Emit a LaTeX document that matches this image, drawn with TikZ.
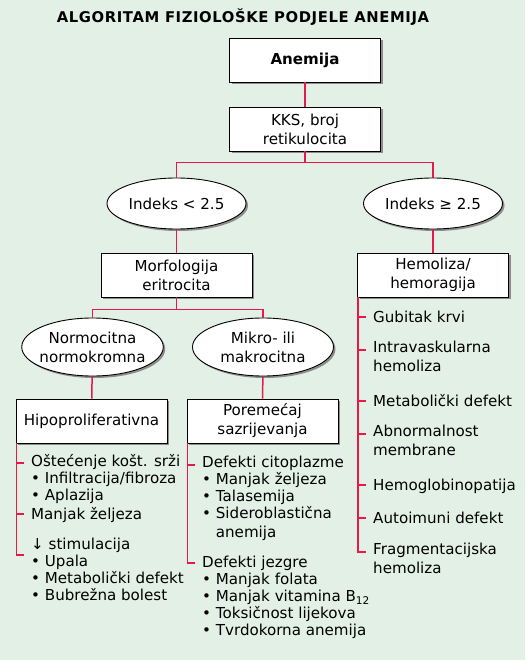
\documentclass[tikz,border=0pt]{standalone}
\usepackage{fontspec}
\setmainfont{DejaVu Sans}
\usetikzlibrary{shapes.geometric, shadows, positioning}
\definecolor{bgmint}{RGB}{226,240,230}
\definecolor{linkred}{RGB}{230,25,75}
\newcommand\boxfont{\fontsize{15.1}{19}\selectfont}
\newcommand\lstfont{\fontsize{15.1}{17}\selectfont}
\newcommand\lstrut{\rule{0pt}{14pt}}
\tikzset{
  shad/.style={drop shadow={shadow xshift=2pt, shadow yshift=-2pt, fill=black!45, opacity=1}},
  box/.style={rectangle, draw, line width=0.9pt, fill=white, shad, minimum width=151pt, minimum height=44pt, inner sep=0pt, align=center, font=\boxfont},
  oval/.style={ellipse, draw, line width=0.9pt, fill=white, shad, minimum width=139pt, minimum height=51pt, inner xsep=-3pt, inner ysep=0pt, align=center, font=\boxfont},
  lst/.style={anchor=north west, align=left, inner xsep=7pt, inner ysep=0pt, font=\lstfont, execute at begin node=\lstrut},
  link/.style={draw=linkred, line width=1.5pt},
  title/.style={font=\fontsize{14.8}{17}\selectfont\bfseries\addfontfeature{LetterSpace=4}, inner sep=0pt}
}
\begin{document}
\begin{tikzpicture}[x=1pt, y=1pt]
	% background
	\path[use as bounding box, fill=bgmint] (0,0) rectangle (525,-660);
	\node[title] (ttl) at (243,-17) {ALGORITAM FIZIOLOŠKE PODJELE ANEMIJA};
	% tree
	\node[box, font=\boxfont\bfseries] (anem) at (305,-60) {Anemija};
	\node[box] (kks) at (305,-129) {KKS, broj\\retikulocita};
	\node[oval] (low) at (176.5,-203.5) {Indeks < 2.5};
	\node[oval] (high) at (433,-203.5) {Indeks ≥ 2.5};
	\node[box] (morf) at (176.5,-275) {Morfologija\\eritrocita};
	\node[box] (hemo) at (433,-275) {Hemoliza/\\hemoragija};
	\node[oval, minimum width=141pt, minimum height=58pt] (normo) at (92.5,-347) {Normocitna\\normokromna};
	\node[oval, minimum width=141pt, minimum height=58pt] (mikro) at (263,-347) {Mikro- ili\\makrocitna};
	\node[box] (hipo) at (91.5,-421) {Hipoproliferativna};
	\node[box] (porem) at (262.5,-421) {Poremećaj\\sazrijevanja};
	\draw[link] (anem) -- (kks);
	\draw[link] (kks.south) -- ++(0,-11) -| (low.north);
	\draw[link] (kks.south) -- ++(0,-11) -| (high.north);
	\draw[link] (low) -- (morf);
	\draw[link] (high) -- (hemo);
	\draw[link] (morf.south) -- ++(0,-12) -| (normo.north);
	\draw[link] (morf.south) -- ++(0,-12) -| (mikro.north);
	\draw[link] (normo) -- (hipo);
	\draw[link] (mikro) -- (porem);
	% hipoproliferativna list
	\node[lst] (h1) at (24,-454) {Oštećenje košt. srži\\• Infiltracija/fibroza\\• Aplazija};
	\node[lst] (h2) at (24,-505) {Manjak željeza};
	\node[lst] (h3) at (24,-538) {↓ stimulacija\\• Upala\\• Metabolički defekt\\• Bubrežna bolest};
	\draw[link] ([xshift=1pt]hipo.south west) |- ([yshift=-17pt]h3.north west);
	\draw[link] ([yshift=-9pt]h1.north west) -- ++(-7,0);
	\draw[link] ([yshift=-9pt]h2.north west) -- ++(-7,0);
	% sazrijevanje list
	\node[lst] (c1) at (195,-456) {Defekti citoplazme\\• Manjak željeza\\• Talasemija\\• Sideroblastična\\[2pt]\phantom{• }anemija};
	\node[lst] (c2) at (195,-556) {Defekti jezgre\\• Manjak folata\\• Manjak vitamina B\textsubscript{12}\\• Toksičnost lijekova\\• Tvrdokorna anemija};
	\draw[link] ([xshift=1pt]porem.south west) |- ([yshift=-7pt]c2.north west);
	\draw[link] ([yshift=-9pt]c1.north west) -- ++(-7,0);
	% hemoliza list
	\foreach \n/\y/\t in {1/317/{Gubitak krvi}, 2/350/{Intravaskularna\\[2pt]hemoliza},
	    3/401/{Metabolički defekt}, 4/434/{Abnormalnost\\[2pt]membrane}, 5/485/{Hemoglobinopatija},
	    6/518/{Autoimuni defekt}, 7/552/{Fragmentacijska\\[2pt]hemoliza}} {
		\node[lst] (r\n) at (366,{9-\y}) {\t};
		\draw[link] ([yshift=-9pt]r\n.north west) -- ++(-7,0);
	}
	\draw[link] ([xshift=1pt]hemo.south west) |- ([yshift=-9pt]r7.north west);
\end{tikzpicture}
\end{document}
